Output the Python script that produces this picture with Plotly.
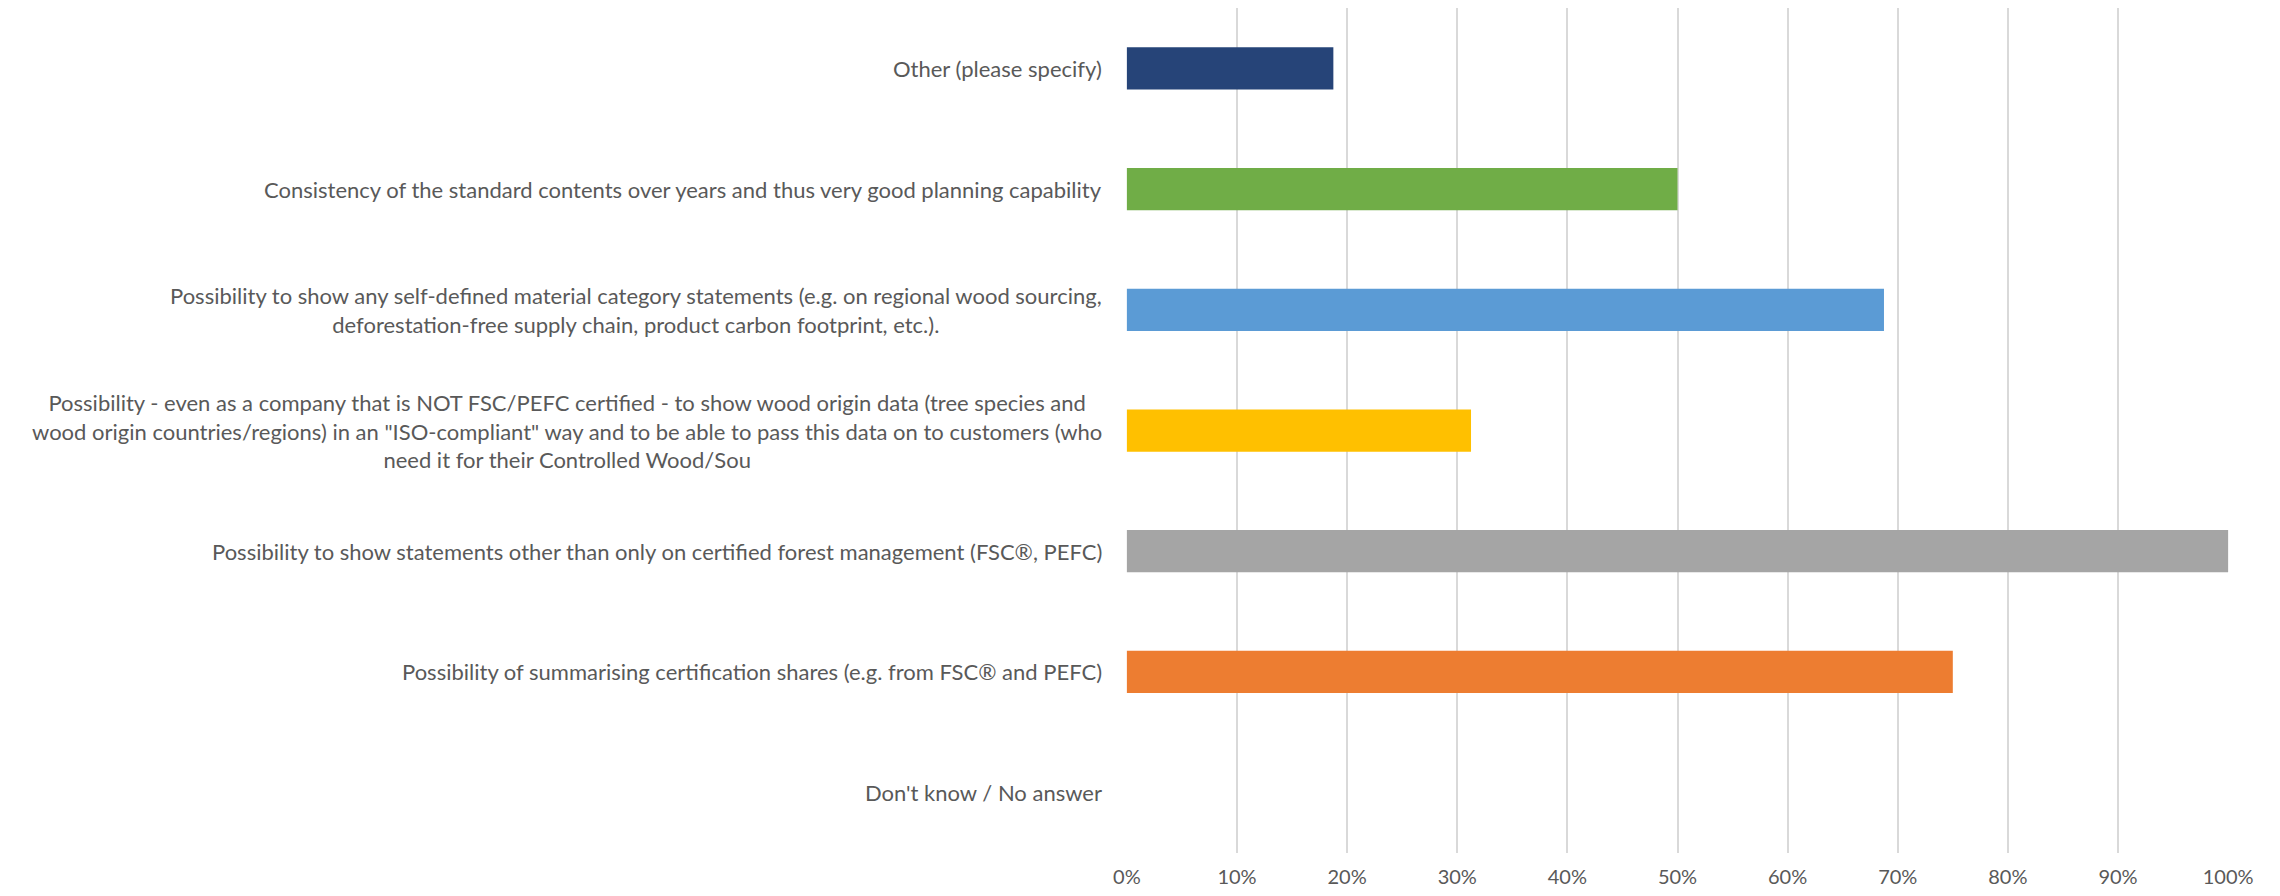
import plotly.graph_objects as go

categories = [
    "Other (please specify)",
    "Consistency of the standard contents over years and thus very good planning capability",
    "Possibility to show any self-defined material category statements (e.g. on regional wood sourcing,<br>deforestation-free supply chain, product carbon footprint, etc.).",
    "Possibility - even as a company that is NOT FSC/PEFC certified - to show wood origin data (tree species and<br>wood origin countries/regions) in an \"ISO-compliant\" way and to be able to pass this data on to customers (who<br>need it for their Controlled Wood/Sou",
    "Possibility to show statements other than only on certified forest management (FSC®, PEFC)",
    "Possibility of summarising certification shares (e.g. from FSC® and PEFC)",
    "Don't know / No answer",
]
shares = [0.1875, 0.50, 0.6875, 0.3125, 1.00, 0.75, 0.0]
bar_colors = ["#264478", "#70AD47", "#5B9BD5", "#FFC000", "#A5A5A5", "#ED7D31", "#4472C4"]
x_ticks = [0, 0.1, 0.2, 0.3, 0.4, 0.5, 0.6, 0.7, 0.8, 0.9, 1.0]

FONT = "Lato"
TXT = "#595959"

fig = go.Figure(
    go.Bar(
        y=categories,
        x=shares,
        orientation="h",
        marker=dict(color=bar_colors, line=dict(width=0)),
        hoverinfo="x+y",
    )
)

for cat in categories:
    fig.add_annotation(
        x=0, xref="paper", y=cat, yref="y",
        text=cat, showarrow=False, xanchor="right", yanchor="middle",
        align="center", xshift=-22,
        font=dict(family=FONT, size=22, color=TXT),
    )

fig.update_layout(
    width=2272, height=888,
    margin=dict(l=1118, r=51, t=0, b=43),
    paper_bgcolor="white", plot_bgcolor="white",
    bargap=0.65,
    showlegend=False,
    font=dict(family=FONT, size=22, color=TXT),
)
fig.update_xaxes(
    range=[-0.0008, 1.0008], tickvals=x_ticks, tickformat=".0%",
    showgrid=True, gridcolor="#D9D9D9", gridwidth=1.5,
    zeroline=False, showline=False, ticks="", ticklabelstandoff=10,
    automargin=False,
    tickfont=dict(family=FONT, size=20, color=TXT),
)
fig.update_yaxes(
    categoryorder="array", categoryarray=categories, autorange="reversed",
    showticklabels=False, showgrid=False, zeroline=False, showline=False, ticks="",
    automargin=False,
)

fig.write_html("out.html")
